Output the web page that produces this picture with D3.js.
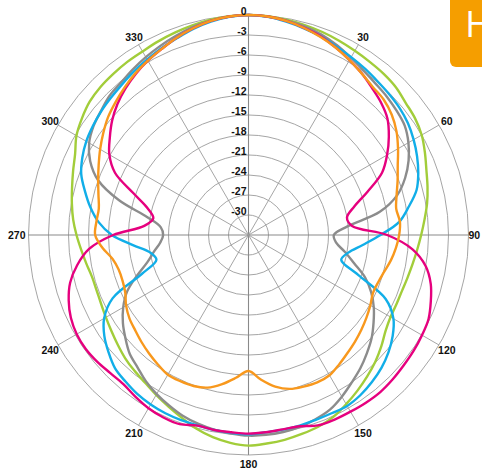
<!DOCTYPE html>
<html>
<head>
<meta charset="utf-8">
<script src="https://cdn.jsdelivr.net/npm/d3@7.9.0/dist/d3.min.js"></script>
<style>
  html, body { margin: 0; padding: 0; background: #fff; }
  svg { display: block; }
  .ring-label, .angle-label { font-family: "Liberation Sans", Arial, sans-serif; font-weight: bold; font-size: 10.5px; fill: #111; }
</style>
</head>
<body>
<svg width="482" height="471"></svg>
<script>
// angles in degrees, clockwise from top
const angles = d3.range(0, 360, 5);

const green = [0, -0.05, -0.2, -0.4, -0.6, -0.85, -1.1, -1.3, -1.45, -1.7, -2.2, -2.5,
  -3.0, -3.8, -4.6, -5.2, -5.8, -6.5, -7.1, -7.6, -8.0, -8.3, -8.5, -8.5,
  -8.4, -7.9, -7.0, -6.1, -5.3, -4.5, -3.7, -2.9, -2.4, -2.1, -1.8, -1.6,
  -1.4, -1.7, -2.2, -2.9, -3.8, -4.6, -5.3, -5.95, -6.4, -6.85, -7.4, -7.9,
  -8.3, -8.6, -8.75, -8.7, -8.3, -7.8, -7.2, -6.6, -6.1, -5.6, -5.0, -4.3,
  -3.2, -2.5, -1.9, -1.6, -1.45, -1.3, -1.2, -0.95, -0.7, -0.45, -0.2, -0.05];

const gray = [0, -0.1, -0.3, -0.6, -1.0, -1.6, -2.3, -2.9, -3.35, -3.65, -4.0, -4.4,
  -5.3, -6.5, -8.0, -9.9, -13.0, -18.1, -20.2, -19.8, -18.3, -16.6, -14.4, -12.7,
  -11.3, -10.1, -8.9, -7.9, -6.9, -6.0, -5.0, -4.1, -3.6, -3.2, -3.0, -2.9,
  -2.9, -3.1, -3.35, -3.7, -4.15, -4.8, -5.45, -6.2, -7.1, -7.8, -8.9, -10.0,
  -11.3, -12.9, -15.2, -17.3, -18.6, -19.7, -20.2, -19.8, -17.6, -12.9, -9.0, -6.8,
  -5.4, -4.6, -4.1, -3.5, -3.2, -2.7, -2.2, -1.7, -1.2, -0.7, -0.35, -0.1];

const blue = [0, -0.15, -0.5, -0.9, -1.3, -1.8, -2.2, -2.55, -2.9, -3.15, -3.4, -3.8,
  -4.4, -5.1, -5.9, -6.9, -8.6, -10.3, -13.2, -15.8, -17.8, -18.6, -15.5, -10.3,
  -7.9, -6.6, -5.6, -4.8, -4.2, -3.7, -3.4, -3.5, -3.5, -3.4, -3.35, -3.3,
  -3.1, -3.2, -3.3, -3.45, -3.45, -3.5, -3.65, -3.9, -4.3, -4.7, -5.6, -6.6,
  -8.0, -10.5, -16.0, -18.7, -18.0, -15.6, -12.5, -10.4, -8.9, -7.6, -6.3, -5.5,
  -4.9, -4.5, -4.15, -3.85, -3.5, -3.05, -2.6, -2.1, -1.6, -1.0, -0.5, -0.15];

const orange = [0, -0.1, -0.4, -0.85, -1.4, -2.0, -2.7, -3.4, -4.0, -4.3, -4.95, -5.9,
  -7.1, -8.3, -9.2, -10.0, -10.5, -10.2, -10.4, -10.8, -11.3, -11.9, -12.3, -12.4,
  -11.9, -11.4, -10.9, -10.4, -9.9, -9.3, -8.7, -8.6, -8.8, -9.1, -9.9, -11.2,
  -12.6, -11.5, -10.3, -9.3, -8.9, -8.8, -8.8, -9.3, -9.8, -10.3, -10.8, -11.2,
  -11.8, -12.6, -12.9, -12.85, -12.3, -11.0, -10.0, -10.1, -10.2, -9.7, -9.0, -8.2,
  -7.3, -6.4, -5.5, -4.8, -4.1, -3.4, -2.8, -2.2, -1.5, -0.9, -0.4, -0.1];

const magenta = [0, -0.1, -0.4, -0.85, -1.3, -2.0, -2.7, -3.4, -4.2, -4.9, -5.8, -7.3,
  -9.0, -10.9, -14.0, -16.6, -18.0, -17.4, -12.2, -8.3, -6.0, -4.7, -3.9, -3.2,
  -2.95, -2.75, -2.6, -2.4, -2.25, -2.3, -2.4, -2.45, -2.6, -3.3, -3.4, -3.3,
  -3.2, -3.3, -3.3, -3.4, -2.8, -2.8, -3.0, -3.4, -3.8, -3.7, -3.4, -3.2,
  -3.25, -3.6, -4.3, -5.3, -6.9, -9.0, -12.7, -17.3, -18.5, -17.3, -14.6, -10.9,
  -8.9, -7.6, -6.3, -5.2, -4.3, -3.5, -2.8, -2.2, -1.5, -0.9, -0.4, -0.1];

const ringValues = d3.range(0, -31, -3);          // 0, -3, ... -30
const angleLabels = d3.range(30, 360, 30);        // 30 ... 330

const series = [
  { name: 'green', values: green, color: '#a2cd3a' },
  { name: 'gray', values: gray, color: '#8c8c8c' },
  { name: 'blue', values: blue, color: '#11aee8' },
  { name: 'magenta', values: magenta, color: '#e6007e' },
  { name: 'orange', values: orange, color: '#f8981d' }
];

const svg = d3.select('svg');
const cx = 248.5, cy = 235, R = 220;

const r = d3.scaleLinear().domain([-33, 0]).range([0, R]);
const rad = (d) => d * Math.PI / 180;

// orange tab, top right
svg.append('rect')
  .attr('x', 450).attr('y', -10)
  .attr('width', 50).attr('height', 77)
  .attr('rx', 6)
  .attr('fill', '#f59e00');
svg.append('text')
  .attr('x', 465).attr('y', 37)
  .attr('font-family', '"Open Sans", sans-serif')
  .attr('font-size', 37)
  .attr('fill', '#fff')
  .text('H');

const g = svg.append('g').attr('transform', `translate(${cx},${cy})`);

// rings
g.selectAll('circle.ring')
  .data(ringValues)
  .join('circle')
  .attr('class', 'ring')
  .attr('r', (d) => r(d))
  .attr('fill', 'none')
  .attr('stroke', '#9b9b9b')
  .attr('stroke-width', 0.9);

// spokes every 30 degrees
g.selectAll('line.spoke')
  .data(d3.range(0, 360, 30))
  .join('line')
  .attr('class', 'spoke')
  .attr('x1', 0).attr('y1', 0)
  .attr('x2', (d) => R * Math.sin(rad(d)))
  .attr('y2', (d) => -R * Math.cos(rad(d)))
  .attr('stroke', (d) => (d % 90 === 0 ? '#8a8a8a' : '#9b9b9b'))
  .attr('stroke-width', (d) => (d % 90 === 0 ? 1.1 : 0.9));

// curves
const line = d3.lineRadial()
  .angle((d) => rad(d[0]))
  .radius((d) => r(d[1]))
  .curve(d3.curveCatmullRomClosed.alpha(0.5));

series.forEach((s) => {
  g.append('path')
    .datum(angles.map((a, i) => [a, s.values[i]]))
    .attr('d', line)
    .attr('fill', 'none')
    .attr('stroke', s.color)
    .attr('stroke-width', 2.4)
    .attr('stroke-linejoin', 'round');
});

// dB labels along the top spoke
g.selectAll('text.ring-label')
  .data(ringValues)
  .join('text')
  .attr('class', 'ring-label')
  .attr('x', -2)
  .attr('y', (d) => -r(d))
  .attr('text-anchor', 'end')
  .text((d) => d);

// angle labels (90 / 270 sit right against the circle)
const labelR = (d) => (d === 90 ? R : d === 270 ? R + 3 : 229);
g.selectAll('text.angle-label')
  .data(angleLabels)
  .join('text')
  .attr('class', 'angle-label')
  .attr('x', (d) => labelR(d) * Math.sin(rad(d)))
  .attr('y', (d) => -labelR(d) * Math.cos(rad(d)))
  .attr('text-anchor', (d) => (d === 90 ? 'start' : d === 270 ? 'end' : 'middle'))
  .attr('dominant-baseline', 'central')
  .text((d) => d);
</script>
</body>
</html>
